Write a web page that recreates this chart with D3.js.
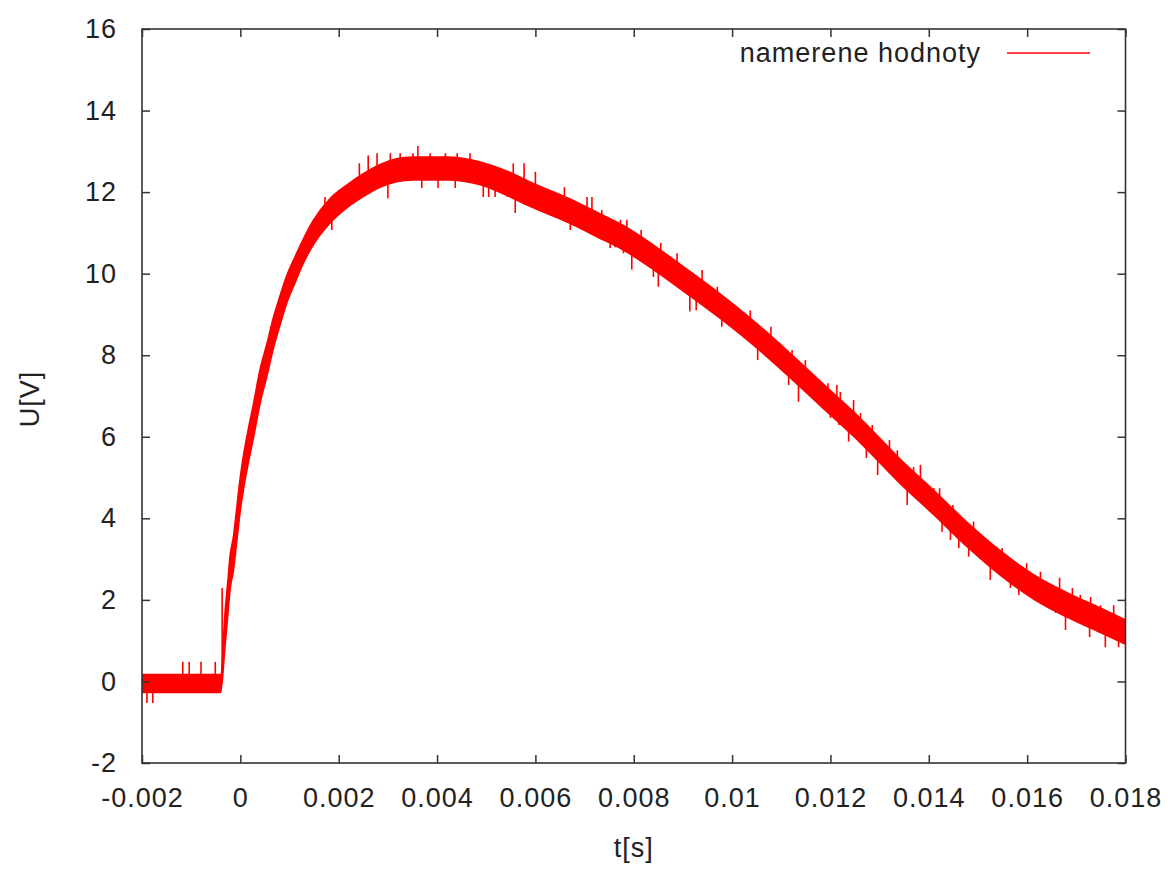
<!DOCTYPE html>
<html>
<head>
<meta charset="utf-8">
<script src="https://cdn.jsdelivr.net/npm/d3@7"></script>
<style>
  body { margin: 0; background: #fff; }
  svg text { font-family: "Liberation Sans", Arial, sans-serif; font-size: 27px; fill: #222; letter-spacing: 1px; }
</style>
</head>
<body>
<svg id="chart" width="1168" height="869"></svg>
<script>
const width = 1168;
const height = 869;
const margin = { top: 29, right: 42.5, bottom: 106, left: 142 };
const lineColor = '#ff0000';
const frameColor = '#333';
const tickLen = 8;

const timeS = [
    -0.0020, -0.0015, -0.0010, -0.0005, -0.00040, -0.00031, -0.00025, -0.00021, -0.00014, -0.00007,
    0.00000, 0.00006, 0.00016, 0.00027, 0.00040, 0.00054, 0.00067, 0.00081, 0.00094, 0.00111,
    0.00128, 0.00148, 0.00183, 0.00217, 0.00250, 0.00284, 0.00351, 0.00421, 0.00488, 0.00549,
    0.00589, 0.00667, 0.00726, 0.00783, 0.00840, 0.00909, 0.00976, 0.01043, 0.01118, 0.01194,
    0.01261, 0.01342, 0.01409, 0.01479, 0.01546, 0.01613, 0.01682, 0.01749, 0.01800,
];
const voltMid = [
    -0.05, -0.05, -0.05, -0.05, -0.05, 1.30, 2.10, 2.66, 3.14, 3.88,
    4.61, 5.10, 5.76, 6.41, 7.23, 7.88, 8.54, 9.11, 9.60, 10.09,
    10.55, 11.00, 11.55, 11.90, 12.17, 12.40, 12.58, 12.58, 12.46, 12.18,
    11.95, 11.55, 11.20, 10.85, 10.40, 9.80, 9.20, 8.55, 7.75, 6.90,
    6.15, 5.15, 4.40, 3.59, 2.90, 2.32, 1.87, 1.50, 1.21,
];
const voltNoise = [
    0.22, 0.22, 0.22, 0.22, 0.22, 0.42, 0.42, 0.42, 0.42, 0.42,
    0.42, 0.42, 0.42, 0.42, 0.42, 0.40, 0.38, 0.36, 0.34, 0.32,
    0.30, 0.30, 0.30, 0.28, 0.28, 0.28, 0.28, 0.28, 0.28, 0.30,
    0.30, 0.30, 0.30, 0.30, 0.30, 0.30, 0.30, 0.30, 0.30, 0.30,
    0.30, 0.30, 0.30, 0.30, 0.30, 0.30, 0.30, 0.30, 0.30,
];

// single noise spikes that stick out of the band: time [s], low end [V], high end [V]
const spikeT = [
    -0.00037, -0.00190, -0.00178, -0.00117, -0.00104, -0.00080, -0.00051,
    0.00172, 0.00186, 0.00242, 0.00260, 0.00278, 0.00300, 0.00305, 0.00325, 0.00351, 0.00361,
    0.00369, 0.00386, 0.00402, 0.00417, 0.00437, 0.00441, 0.00467,
    0.00494, 0.00505, 0.00518, 0.00543, 0.00555, 0.00559, 0.00577, 0.00600, 0.00659, 0.00671,
    0.00705, 0.00715, 0.00735, 0.00752, 0.00762, 0.00773, 0.00779, 0.00786, 0.00796, 0.00815,
    0.00840, 0.00850, 0.00855, 0.00888, 0.00914, 0.00927, 0.00939, 0.00970, 0.00979, 0.00996,
    0.01037, 0.01052, 0.01079, 0.01115, 0.01122, 0.01135, 0.01149, 0.01183, 0.01195, 0.01200,
    0.01213, 0.01217, 0.01220, 0.01237, 0.01247, 0.01261, 0.01273, 0.01285, 0.01296, 0.01320,
    0.01336, 0.01356, 0.01369, 0.01383, 0.01410, 0.01422, 0.01427, 0.01444, 0.01449, 0.01461,
    0.01481, 0.01491, 0.01525, 0.01549, 0.01566, 0.01583, 0.01599, 0.01610, 0.01627, 0.01658,
    0.01666, 0.01678, 0.01692, 0.01708, 0.01727, 0.01729, 0.01749, 0.01759, 0.01776, 0.01786,
];
const spikeLo = [
    0.0, -0.53, -0.53, 0.0, 0.0, 0.0, 0.0,
    11.5, 11.07, 12.2, 12.3, 12.4, 11.85, 12.45, 12.5, 12.55, 12.58,
    12.1, 12.58, 12.1, 12.58, 12.1, 12.55, 12.5,
    11.88, 11.88, 11.88, 11.88, 12.18, 11.49, 12.0, 11.9, 11.6, 11.07,
    11.4, 11.35, 11.15, 10.63, 10.65, 10.95, 10.5, 10.85, 10.1, 10.6,
    9.92, 9.68, 10.3, 9.9, 9.07, 9.1, 9.5, 9.2, 8.7, 8.7,
    8.6, 7.88, 8.1, 7.27, 7.7, 6.86, 7.4, 6.7, 6.85, 6.46,
    6.7, 6.29, 6.6, 5.88, 6.3, 6.15, 5.48, 5.9, 5.06, 5.45,
    5.2, 4.33, 4.8, 4.7, 4.4, 4.25, 3.67, 3.47, 3.95, 3.27,
    3.06, 3.5, 2.49, 2.9, 2.29, 2.12, 2.45, 2.35, 2.2, 1.68,
    2.0, 1.26, 1.8, 1.7, 1.09, 1.6, 1.5, 0.84, 1.4, 0.84,
];
const spikeHi = [
    2.29, 0.0, 0.0, 0.48, 0.48, 0.48, 0.48,
    11.88, 11.6, 12.71, 12.9, 12.95, 12.45, 12.95, 12.95, 12.95, 13.13,
    12.58, 12.95, 12.58, 12.95, 12.55, 12.95, 12.95,
    12.45, 12.4, 12.35, 12.2, 12.71, 12.18, 12.71, 12.5, 12.12, 11.55,
    11.88, 11.88, 11.56, 11.1, 11.05, 11.32, 10.9, 11.32, 10.75, 11.07,
    10.4, 10.3, 10.75, 10.5, 9.75, 9.65, 10.09, 9.68, 9.1, 9.0,
    9.1, 8.4, 8.7, 7.8, 8.13, 7.55, 7.88, 7.05, 7.31, 6.85,
    7.27, 6.7, 7.1, 6.4, 6.9, 6.58, 6.0, 6.29, 5.7, 5.92,
    5.67, 4.95, 5.26, 5.31, 4.74, 4.74, 4.2, 4.0, 4.33, 3.8,
    3.6, 3.92, 3.1, 3.27, 2.8, 2.6, 2.9, 2.66, 2.69, 2.0,
    2.54, 1.9, 2.29, 2.12, 1.6, 2.07, 1.87, 1.45, 1.87, 1.35,
];

const xTicks = [-0.002, 0, 0.002, 0.004, 0.006, 0.008, 0.01, 0.012, 0.014, 0.016, 0.018];
const xTickLabels = ['-0.002', '0', '0.002', '0.004', '0.006', '0.008', '0.01', '0.012', '0.014', '0.016', '0.018'];
const yTicks = [-2, 0, 2, 4, 6, 8, 10, 12, 14, 16];
const yTickLabels = ['-2', '0', '2', '4', '6', '8', '10', '12', '14', '16'];

const xLabel = 't[s]';
const yLabel = 'U[V]';
const legendLabel = 'namerene hodnoty';

const svg = d3.select('#chart');

const x = d3.scaleLinear().domain([-0.002, 0.018]).range([margin.left, width - margin.right]);
const y = d3.scaleLinear().domain([-2, 16]).range([height - margin.bottom, margin.top]);

const samples = timeS.map((t, i) => ({ t, mid: voltMid[i], noise: voltNoise[i] }));
const spikes = spikeT.map((t, i) => ({ t, lo: spikeLo[i], hi: spikeHi[i] }));

svg.append('clipPath')
    .attr('id', 'plot-clip')
    .append('rect')
    .attr('x', x.range()[0])
    .attr('y', y.range()[1])
    .attr('width', x.range()[1] - x.range()[0])
    .attr('height', y.range()[0] - y.range()[1]);

const plot = svg.append('g').attr('clip-path', 'url(#plot-clip)');

// noisy band of the measurement
const band = d3.area()
    .x(d => x(d.t))
    .y0(d => y(d.mid - d.noise))
    .y1(d => y(d.mid + d.noise))
    .curve(d3.curveMonotoneX);

plot.append('path')
    .datum(samples)
    .attr('d', band)
    .attr('fill', lineColor)
    .attr('stroke', lineColor)
    .attr('stroke-width', 1.5)
    .attr('stroke-linejoin', 'round');

plot.selectAll('.spike')
    .data(spikes)
    .enter()
    .append('line')
    .attr('class', 'spike')
    .attr('x1', d => x(d.t))
    .attr('x2', d => x(d.t))
    .attr('y1', d => y(d.lo))
    .attr('y2', d => y(d.hi))
    .attr('stroke', lineColor)
    .attr('stroke-width', 1.6);

// axes: inward ticks on all four sides, labels only bottom and left
const bottomAxis = d3.axisBottom(x)
    .tickValues(xTicks)
    .tickFormat((d, i) => xTickLabels[i])
    .tickSizeInner(-tickLen)
    .tickSizeOuter(0)
    .tickPadding(25);
const leftAxis = d3.axisLeft(y)
    .tickValues(yTicks)
    .tickFormat((d, i) => yTickLabels[i])
    .tickSizeInner(-tickLen)
    .tickSizeOuter(0)
    .tickPadding(25);
const topAxis = d3.axisTop(x).tickValues(xTicks).tickFormat('').tickSizeInner(-tickLen).tickSizeOuter(0);
const rightAxis = d3.axisRight(y).tickValues(yTicks).tickFormat('').tickSizeInner(-tickLen).tickSizeOuter(0);

function drawAxis(axis, tx, ty) {
    const g = svg.append('g')
        .attr('transform', `translate(${tx},${ty})`)
        .style('color', frameColor)
        .call(axis);
    g.select('.domain').remove();
    g.selectAll('.tick line').attr('stroke-width', 1.5);
    return g;
}

drawAxis(bottomAxis, 0, y.range()[0]);
drawAxis(leftAxis, x.range()[0], 0);
drawAxis(topAxis, 0, y.range()[1]);
drawAxis(rightAxis, x.range()[1], 0);

svg.append('rect')
    .attr('x', x.range()[0])
    .attr('y', y.range()[1])
    .attr('width', x.range()[1] - x.range()[0])
    .attr('height', y.range()[0] - y.range()[1])
    .attr('fill', 'none')
    .attr('stroke', frameColor)
    .attr('stroke-width', 1.6);

// axis titles
svg.append('text')
    .attr('x', (x.range()[0] + x.range()[1]) / 2)
    .attr('y', 857)
    .attr('text-anchor', 'middle')
    .text(xLabel);

svg.append('text')
    .attr('transform', 'translate(39,399) rotate(-90)')
    .attr('text-anchor', 'middle')
    .text(yLabel);

// legend
svg.append('text')
    .attr('x', 981)
    .attr('y', 62)
    .attr('text-anchor', 'end')
    .text(legendLabel);

svg.append('line')
    .attr('x1', 1007)
    .attr('x2', 1090)
    .attr('y1', 53)
    .attr('y2', 53)
    .attr('stroke', lineColor)
    .attr('stroke-width', 1.5);
</script>
</body>
</html>
